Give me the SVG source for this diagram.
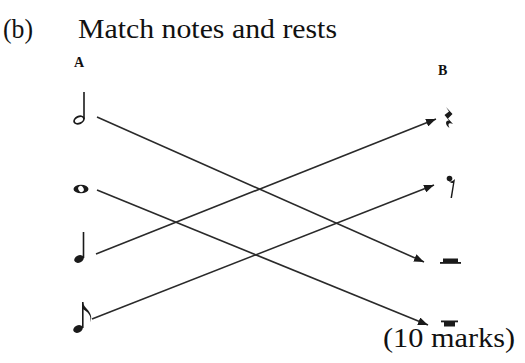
<svg xmlns="http://www.w3.org/2000/svg" width="525" height="363" viewBox="0 0 525 363">
<style>
.t{font-family:"Liberation Serif","Times New Roman",serif;fill:#111}
.h{font-size:28px}
.lbl{font-size:14px;font-weight:bold}
.ln{stroke:#2a2a2a;stroke-width:1.6;fill:none;marker-end:url(#ah)}
.ink{fill:#1a1a1a}
.stem{stroke:#1a1a1a;stroke-width:1.6;fill:none}
</style>
<defs>
<marker id="ah" viewBox="0 0 10 8" refX="10" refY="4" markerWidth="10" markerHeight="8" markerUnits="userSpaceOnUse" orient="auto">
<path d="M0,0 L10,4 L0,8 Z" fill="#1a1a1a"/>
</marker>
</defs>
<rect width="525" height="363" fill="#fff"/>
<g id="title">
<text class="t h" x="3" y="38" textLength="30" lengthAdjust="spacingAndGlyphs">(b)</text>
<text class="t h" x="78" y="38" textLength="259" lengthAdjust="spacingAndGlyphs">Match notes and rests</text>
</g>
<g id="labelA"><text class="t lbl" x="74" y="67">A</text></g>
<g id="labelB"><text class="t lbl" x="438" y="75">B</text></g>
<g id="marks"><text class="t h" x="383" y="347" textLength="132" lengthAdjust="spacingAndGlyphs">(10 marks)</text></g>
<g id="connectors">
<path class="ln" d="M97,117 L424,262"/>
<path class="ln" d="M97,190 L428,325"/>
<path class="ln" d="M96,254 L436,119"/>
<path class="ln" d="M92,319 L434,185"/>
</g>
<g id="halfNote">
<ellipse cx="79" cy="120" rx="5.2" ry="3.4" transform="rotate(-25 79 120)" fill="none" stroke="#1a1a1a" stroke-width="1.8"/>
<line class="stem" x1="84" y1="92" x2="84" y2="119"/>
</g>
<g id="wholeNote">
<ellipse cx="81" cy="189" rx="7.5" ry="4.3" class="ink"/>
<ellipse cx="81" cy="189" rx="2.6" ry="3.2" transform="rotate(-30 81 189)" fill="#fff"/>
</g>
<g id="quarterNote">
<ellipse cx="79" cy="259" rx="5" ry="3.6" transform="rotate(-25 79 259)" class="ink"/>
<line class="stem" x1="83.5" y1="232" x2="83.5" y2="258"/>
</g>
<g id="eighthNote">
<ellipse cx="78" cy="329" rx="5" ry="3.6" transform="rotate(-25 78 329)" class="ink"/>
<line class="stem" x1="82.8" y1="302" x2="82.8" y2="328"/>
<path d="M82.8,302 C84,308 90,310 91,316 C91.5,318 91,320 90,322 C92,316 88,312 82.8,309 Z" class="ink"/>
</g>
<g id="quarterRest">
<path d="M446,107 L452.5,114 L448,118.5 L453,124 C449.5,122.5 447,123.5 449.5,128 C444.5,124.5 445.5,120 449,120.5 L444.5,115 L449,111.5 Z" class="ink"/>
</g>
<g id="eighthRest">
<circle cx="449.5" cy="178.5" r="2.8" class="ink"/>
<path d="M449,181 C451,182 453,181 455,179 L452,198 L450.5,198 L453,183 C451,183 450,182.5 449,181 Z" class="ink"/>
</g>
<g id="halfRest">
<rect x="443" y="258.5" width="15" height="4" class="ink"/>
<rect x="440" y="262" width="21" height="1.8" class="ink"/>
</g>
<g id="wholeRest">
<rect x="441" y="320.5" width="17" height="1.8" class="ink"/>
<rect x="444" y="322" width="11" height="4.5" class="ink"/>
</g>
</svg>
